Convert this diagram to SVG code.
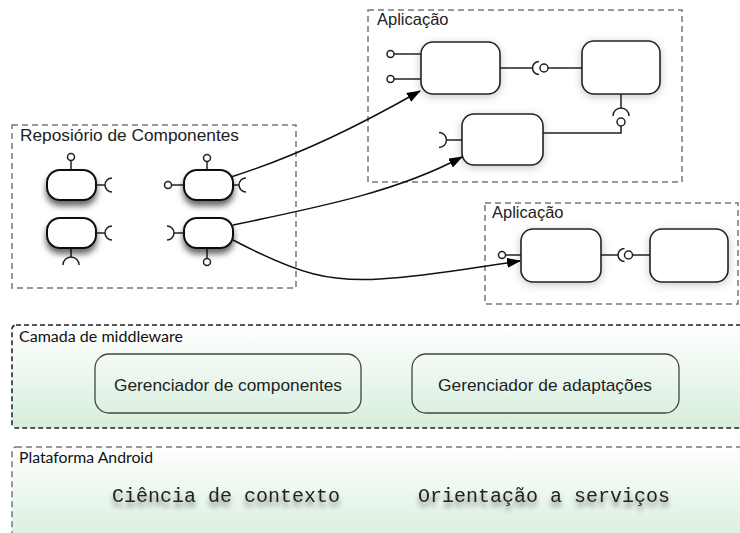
<svg xmlns="http://www.w3.org/2000/svg" width="740" height="533" viewBox="0 0 740 533">
<style>
.frame{fill:none;stroke:#777;stroke-width:1.5;stroke-dasharray:6 4}
.lbl{font-family:"Liberation Sans",Arial,sans-serif;font-size:16.5px;fill:#222}
.layerlbl{font-family:Lato,"Noto Sans",sans-serif;font-size:14.5px;fill:#111}
.mgr{font-family:"Liberation Sans",Arial,sans-serif;font-size:17px;fill:#222}
.mono{font-family:"Liberation Mono","Courier New",monospace;font-size:20px;fill:#222}
.rpill{fill:#fff;stroke:#111;stroke-width:2}
.apill{fill:#fff;stroke:#222;stroke-width:1.6}
.ln{fill:none;stroke:#222;stroke-width:1.5}
.lolli{fill:#fff;stroke:#222;stroke-width:1.5}
.arrow{fill:none;stroke:#111;stroke-width:1.5;marker-end:url(#ah)}
.mbox{fill:none;stroke:#444;stroke-width:1.3}
</style>
<defs>
<marker id="ah" viewBox="0 0 14 10" refX="13" refY="5" markerWidth="14" markerHeight="10" markerUnits="userSpaceOnUse" orient="auto">
<path d="M0,0 L14,5 L0,10 Z" fill="#000"/>
</marker>
<filter id="shRepo" x="-40%" y="-40%" width="180%" height="200%">
<feDropShadow dx="0" dy="5" stdDeviation="3" flood-color="#000" flood-opacity="0.6"/>
</filter>
<filter id="shApp" x="-30%" y="-30%" width="160%" height="170%">
<feDropShadow dx="0" dy="2" stdDeviation="4" flood-color="#000" flood-opacity="0.22"/>
</filter>
<filter id="shText" x="-10%" y="-50%" width="120%" height="220%">
<feDropShadow dx="0" dy="5" stdDeviation="2.5" flood-color="#000" flood-opacity="0.45"/>
</filter>
<linearGradient id="layerGrad" x1="0" y1="0" x2="0" y2="1">
<stop offset="0" stop-color="#ffffff"/>
<stop offset="1" stop-color="#d6eedc"/>
</linearGradient>
</defs>

<!-- Repository frame -->
<g id="repositorio">
<rect class="frame" x="12" y="125" width="284" height="163"/>
<text class="lbl" x="20" y="141" textLength="219" lengthAdjust="spacingAndGlyphs">Reposiório de Componentes</text>
</g>

<g id="repo-comp-1">
<line class="ln" x1="71" y1="160.5" x2="71" y2="170"/>
<circle class="lolli" cx="71" cy="157" r="3.5"/>
<line class="ln" x1="96" y1="185" x2="105" y2="185"/>
<path class="ln" d="M112,178 A7,7 0 0 0 112,192"/>
<rect class="rpill" x="47" y="170" width="49" height="30" rx="13" filter="url(#shRepo)"/>
</g>

<g id="repo-comp-2">
<line class="ln" x1="96" y1="233" x2="105" y2="233"/>
<path class="ln" d="M112,226 A7,7 0 0 0 112,240"/>
<line class="ln" x1="71" y1="248" x2="71" y2="257"/>
<path class="ln" d="M63,265 A8,8 0 0 1 79,265"/>
<rect class="rpill" x="47" y="218" width="49" height="30" rx="13" filter="url(#shRepo)"/>
</g>

<g id="repo-comp-3">
<line class="ln" x1="207" y1="161.5" x2="207" y2="170"/>
<circle class="lolli" cx="207" cy="158" r="3.5"/>
<line class="ln" x1="171.5" y1="185" x2="184" y2="185"/>
<circle class="lolli" cx="168" cy="185" r="3.5"/>
<line class="ln" x1="233" y1="185" x2="239" y2="185"/>
<path class="ln" d="M246,178 A7,7 0 0 0 246,192"/>
<rect class="rpill" x="184" y="170" width="49" height="30" rx="13" filter="url(#shRepo)"/>
</g>

<g id="repo-comp-4">
<path class="ln" d="M167,226 A7,7 0 0 1 167,240"/>
<line class="ln" x1="174" y1="233" x2="184" y2="233"/>
<line class="ln" x1="207" y1="248" x2="207" y2="258.5"/>
<circle class="lolli" cx="207" cy="262" r="3.5"/>
<rect class="rpill" x="184" y="218" width="49" height="30" rx="13" filter="url(#shRepo)"/>
</g>

<!-- Application 1 -->
<g id="aplicacao-1">
<rect class="frame" x="368" y="10" width="314" height="172"/>
<text class="lbl" x="377" y="25">Aplicação</text>
</g>

<g id="app1-comp-a">
<line class="ln" x1="394" y1="54" x2="421" y2="54"/>
<circle class="lolli" cx="390.5" cy="54" r="3.5"/>
<line class="ln" x1="394" y1="79" x2="421" y2="79"/>
<circle class="lolli" cx="390.5" cy="79" r="3.5"/>
<line class="ln" x1="500" y1="68" x2="532.5" y2="68"/>
<path class="ln" d="M539,61.5 A6.5,6.5 0 0 0 539,74.5"/>
<rect class="apill" x="421" y="42" width="79" height="52" rx="12" filter="url(#shApp)"/>
</g>

<g id="app1-comp-b">
<circle class="lolli" cx="544" cy="68" r="4"/>
<line class="ln" x1="548" y1="68" x2="582" y2="68"/>
<line class="ln" x1="621" y1="94" x2="621" y2="108"/>
<path class="ln" d="M613,116 A8,8 0 0 1 629,116"/>
<rect class="apill" x="582" y="41" width="78" height="53" rx="12" filter="url(#shApp)"/>
</g>

<g id="app1-comp-c">
<path class="ln" d="M439,132.5 A7.5,7.5 0 0 1 439,147.5"/>
<line class="ln" x1="446.5" y1="140" x2="462" y2="140"/>
<polyline class="ln" points="543,133 621,133 621,126"/>
<circle class="lolli" cx="621" cy="122" r="4"/>
<rect class="apill" x="462" y="114" width="81" height="51" rx="12" filter="url(#shApp)"/>
</g>

<!-- Application 2 -->
<g id="aplicacao-2">
<rect class="frame" x="485" y="203" width="253" height="101"/>
<text class="lbl" x="492" y="218">Aplicação</text>
</g>

<g id="app2-comp-d">
<line class="ln" x1="505.5" y1="255" x2="521" y2="255"/>
<circle class="lolli" cx="502" cy="255" r="3.5"/>
<line class="ln" x1="601" y1="255" x2="618" y2="255"/>
<path class="ln" d="M624.5,248.5 A6.5,6.5 0 0 0 624.5,261.5"/>
<rect class="apill" x="521" y="229" width="80" height="53" rx="12" filter="url(#shApp)"/>
</g>

<g id="app2-comp-e">
<circle class="lolli" cx="628.5" cy="255" r="4"/>
<line class="ln" x1="632.5" y1="255" x2="650" y2="255"/>
<rect class="apill" x="650" y="229" width="78" height="53" rx="12" filter="url(#shApp)"/>
</g>

<!-- Connectors -->
<g id="connectors">
<path class="arrow" d="M231,177 C300,155 360,125 420,91"/>
<path class="arrow" d="M233,225 C330,205 400,190 462,157"/>
<path class="arrow" d="M233,240 C300,275 330,282 380,279 C430,276 470,268 520,261"/>
</g>

<!-- Middleware layer -->
<g id="camada-middleware">
<rect x="12" y="325" width="740" height="103" rx="4" fill="url(#layerGrad)" stroke="#222" stroke-width="1.5" stroke-dasharray="5 3"/>
<text class="layerlbl" x="19" y="342" textLength="164" lengthAdjust="spacingAndGlyphs">Camada de middleware</text>
</g>
<g id="gerenciador-componentes">
<rect class="mbox" x="95" y="354" width="266" height="59" rx="14"/>
<text class="mgr" x="228" y="391" text-anchor="middle" textLength="228" lengthAdjust="spacingAndGlyphs">Gerenciador de componentes</text>
</g>
<g id="gerenciador-adaptacoes">
<rect class="mbox" x="412" y="354" width="267" height="59" rx="14"/>
<text class="mgr" x="545" y="391" text-anchor="middle" textLength="214" lengthAdjust="spacingAndGlyphs">Gerenciador de adaptações</text>
</g>

<!-- Android platform -->
<g id="plataforma-android">
<rect x="12" y="447" width="740" height="100" rx="4" fill="url(#layerGrad)" stroke="#777" stroke-width="1.5" stroke-dasharray="6 4"/>
<text class="layerlbl" x="19" y="463" textLength="134" lengthAdjust="spacingAndGlyphs">Plataforma Android</text>
<text class="mono" x="112" y="502" filter="url(#shText)">Ciência de contexto</text>
<text class="mono" x="418" y="502" filter="url(#shText)">Orientação a serviços</text>
</g>
</svg>
